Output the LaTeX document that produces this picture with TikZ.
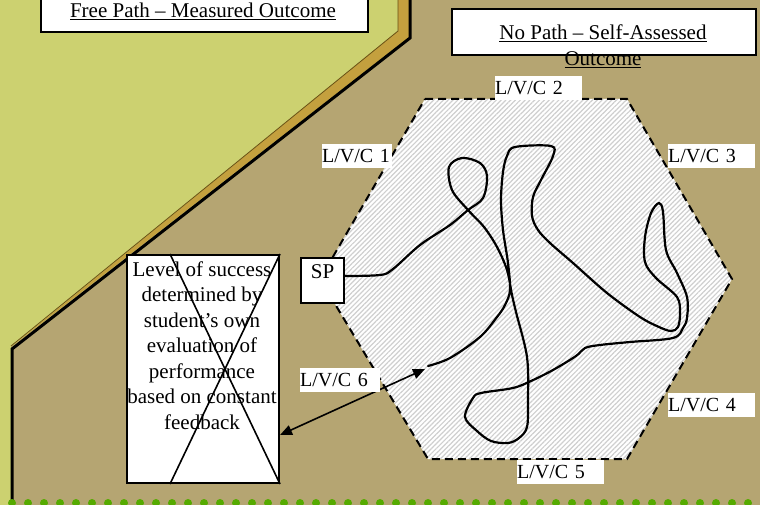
\documentclass[tikz,border=0pt]{standalone}
\usepackage{fontspec}
\setmainfont{Liberation Serif}
\usetikzlibrary{calc,arrows.meta,patterns.meta}
\definecolor{groundtan}{RGB}{181,165,114}
\definecolor{freegreen}{RGB}{204,209,112}
\definecolor{rimgold}{RGB}{196,160,62}
\definecolor{rimdark}{RGB}{105,80,20}
\definecolor{dotgreen}{RGB}{85,170,0}
\begin{document}
\begin{tikzpicture}[x=1pt,y=-1pt,
  whitebox/.style={draw,line width=2pt,fill=white,inner sep=0pt,anchor=north west},
  lvc/.style={fill=white,anchor=north west,inner sep=0pt,text width=#1,minimum height=24pt,
    align=left,font=\fontsize{20}{24}\selectfont},
  lvc/.default=87pt,
  bigtext/.style={inner sep=0pt,font=\fontsize{21}{25.5}\selectfont},
  trail/.style={line width=2.2pt,line join=round,line cap=round},
  fbarrow/.style={line width=1.6pt,{Triangle[length=12pt,width=10pt]}-{Triangle[length=12pt,width=10pt]}}]
  \useasboundingbox (0,0) rectangle (760,505);
  \fill[groundtan] (0,0) rectangle (760,505);
  % free path region
  \fill[freegreen] (0,-5) -- (409,-5) -- (409,37) -- (11,347) -- (11,510) -- (0,510) -- cycle;
  \fill[rimgold] (398,-5) -- (409,-5) -- (409,37) -- (11,347) -- (398,31) -- cycle;
  \draw[rimdark,line width=0.8pt] (398,-5) -- (398,31) -- (11,346);
  \draw[line width=3pt] (410,-5) -- (410,38) -- (12,349) -- (12,510);
  \foreach \i in {0,...,46}
    \fill[dotgreen] (12+16*\i,503) circle[radius=4pt];
  % no path area
  \coordinate (h1) at (425,99); \coordinate (h2) at (627,99); \coordinate (h3) at (732,279);
  \coordinate (h4) at (627,459); \coordinate (h5) at (428,459); \coordinate (h6) at (320,279);
  \fill[white] (h1) -- (h2) -- (h3) -- (h4) -- (h5) -- (h6) -- cycle;
  \fill[pattern={Lines[angle=45,distance=3.4pt,line width=1.2pt]},pattern color=gray!38]
    (h1) -- (h2) -- (h3) -- (h4) -- (h5) -- (h6) -- cycle;
  \draw[line width=2pt,dash pattern=on 8pt off 5pt] (h1) -- (h2) -- (h3) -- (h4) -- (h5) -- (h6) -- cycle;
  \draw[trail] plot[smooth,tension=0.55] coordinates {
    (343,276) (380,275) (393,269) (420,245) (450,225) (468,210) (483,198) (487,176)
    (480,163) (462,158) (449,167) (452,190) (468,210) (484,227) (497,247) (507,270)
    (512,295) (516,312) (527,357) (528,400) (527,427) (519,438) (508,443) (491,441)
    (477,431) (465,417) (473,398) (481,393) (513,388) (531,381) (553,370) (576,356)
    (585,348) (600,345) (630,342) (673,338) (683,328) (687,318) (687,297) (677,273)
    (666,250) (663,212) (659,203) (651,213) (645,237) (645,262) (656,278) (677,297)
    (680,313) (678,327) (671,331) (659,327) (640,317) (607,293) (573,263) (550,243)
    (538,230) (532,216) (533,197) (541,180) (553,156) (551,146) (515,147) (507,156)
    (503,172) (501,200) (503,230) (508,263) (510,290) (505,305) (497,317) (480,337)
    (450,358) (428,366)};
  % titles
  \node[whitebox,minimum width=327pt,minimum height=36pt] (freebox) at (40,-5) {};
  \node[bigtext,anchor=base] (freetitle) at (203,17.5) {\underline{Free Path – Measured Outcome}};
  \node[whitebox,minimum width=304pt,minimum height=46pt] (nobox) at (451,8) {};
  \node[bigtext,anchor=north,align=center,font=\fontsize{21}{26}\selectfont] (notitle) at (603,24.5)
    {\underline{No Path – Self-Assessed}\\\underline{Outcome}};
  % success box
  \node[whitebox,minimum width=152pt,minimum height=228pt] (lvlbox) at (126,254) {};
  \node[bigtext,anchor=north,align=center] (lvltext) at (202,261.5)
    {Level of success\\determined by\\student’s own\\evaluation of\\performance\\based on constant\\feedback};
  \draw[line width=1.6pt] ($(lvlbox.north west)+(44,0)$) -- (lvlbox.south east);
  \draw[line width=1.6pt] (lvlbox.north east) -- ($(lvlbox.south west)+(44,0)$);
  \coordinate (boxhit) at ($(lvlbox.north east)+(0,181)$);
  \coordinate (trailtip) at (425,369);
  \draw[fbarrow] (boxhit) -- (trailtip);
  % start point
  \node[whitebox,minimum width=43pt,minimum height=45pt] (sp) at (300,257) {};
  \node[bigtext,anchor=base] (splabel) at ($(sp.north)+(0,21)$) {SP};
  % labels
  \node[lvc=70pt] (lvc1) at (322,144) {L/V/C 1};
  \node[lvc] (lvc2) at (495,76) {L/V/C 2};
  \node[lvc] (lvc3) at (668,144) {L/V/C 3};
  \node[lvc] (lvc4) at (668,393) {L/V/C 4};
  \node[lvc] (lvc5) at (517,460) {L/V/C 5};
  \node[lvc=80pt] (lvc6) at (300,368) {L/V/C 6};
\end{tikzpicture}
\end{document}
